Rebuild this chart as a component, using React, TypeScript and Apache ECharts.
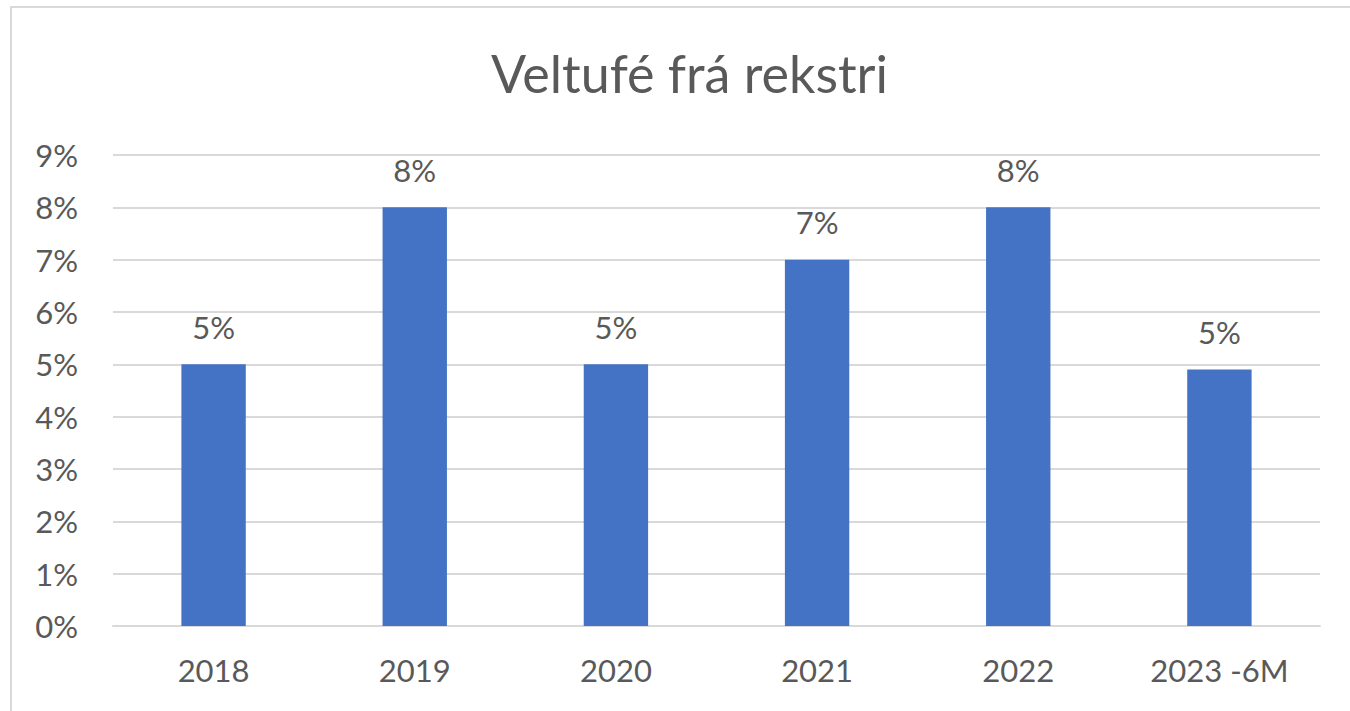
import React, { useEffect, useRef } from "react";
import * as echarts from "echarts";

const categories = ["2018", "2019", "2020", "2021", "2022", "2023 -6M"];
const values = [5.0, 8.0, 5.0, 7.0, 8.0, 4.9];
const title = "Veltufé frá rekstri";

export default function App() {
  const ref = useRef<HTMLDivElement>(null);
  useEffect(() => {
    document.body.style.margin = "0";
    const chart = echarts.init(ref.current!, null, { renderer: "svg" });
    const font = "Lato, 'Open Sans', sans-serif";
    chart.setOption({
      animation: false,
      backgroundColor: "#ffffff",
      title: {
        text: title,
        left: 486,
        top: 42,
        textStyle: { fontFamily: font, fontSize: 52, fontWeight: "normal", color: "#595959" },
      },
      graphic: [
        {
          type: "rect",
          shape: { x: 11, y: 7, width: 1400, height: 800 },
          style: { fill: "none", stroke: "#D9D9D9", lineWidth: 2 },
          silent: true,
        },
      ],
      grid: { left: 113, right: 30, top: 155, bottom: 85 },
      xAxis: {
        type: "category",
        data: categories,
        axisLine: { lineStyle: { color: "#D9D9D9", width: 2 } },
        axisTick: { show: false },
        axisLabel: { fontFamily: font, fontSize: 31, color: "#595959", margin: 28 },
      },
      yAxis: {
        type: "value",
        min: 0,
        max: 9,
        interval: 1,
        axisLine: { show: false },
        axisTick: { show: false },
        splitLine: { lineStyle: { color: "#D9D9D9", width: 2 } },
        axisLabel: {
          fontFamily: font,
          fontSize: 31,
          color: "#595959",
          margin: 35,
          formatter: "{value}%",
        },
      },
      series: [
        {
          type: "bar",
          data: values,
          barWidth: "32%",
          itemStyle: { color: "#4472C4" },
          label: {
            show: true,
            position: "top",
            distance: 22,
            fontFamily: font,
            fontSize: 31,
            color: "#595959",
            formatter: (p: any) => Math.round(p.value) + "%",
          },
        },
      ],
    });
    return () => chart.dispose();
  }, []);
  return <div ref={ref} style={{ width: 1350, height: 711 }} />;
}
